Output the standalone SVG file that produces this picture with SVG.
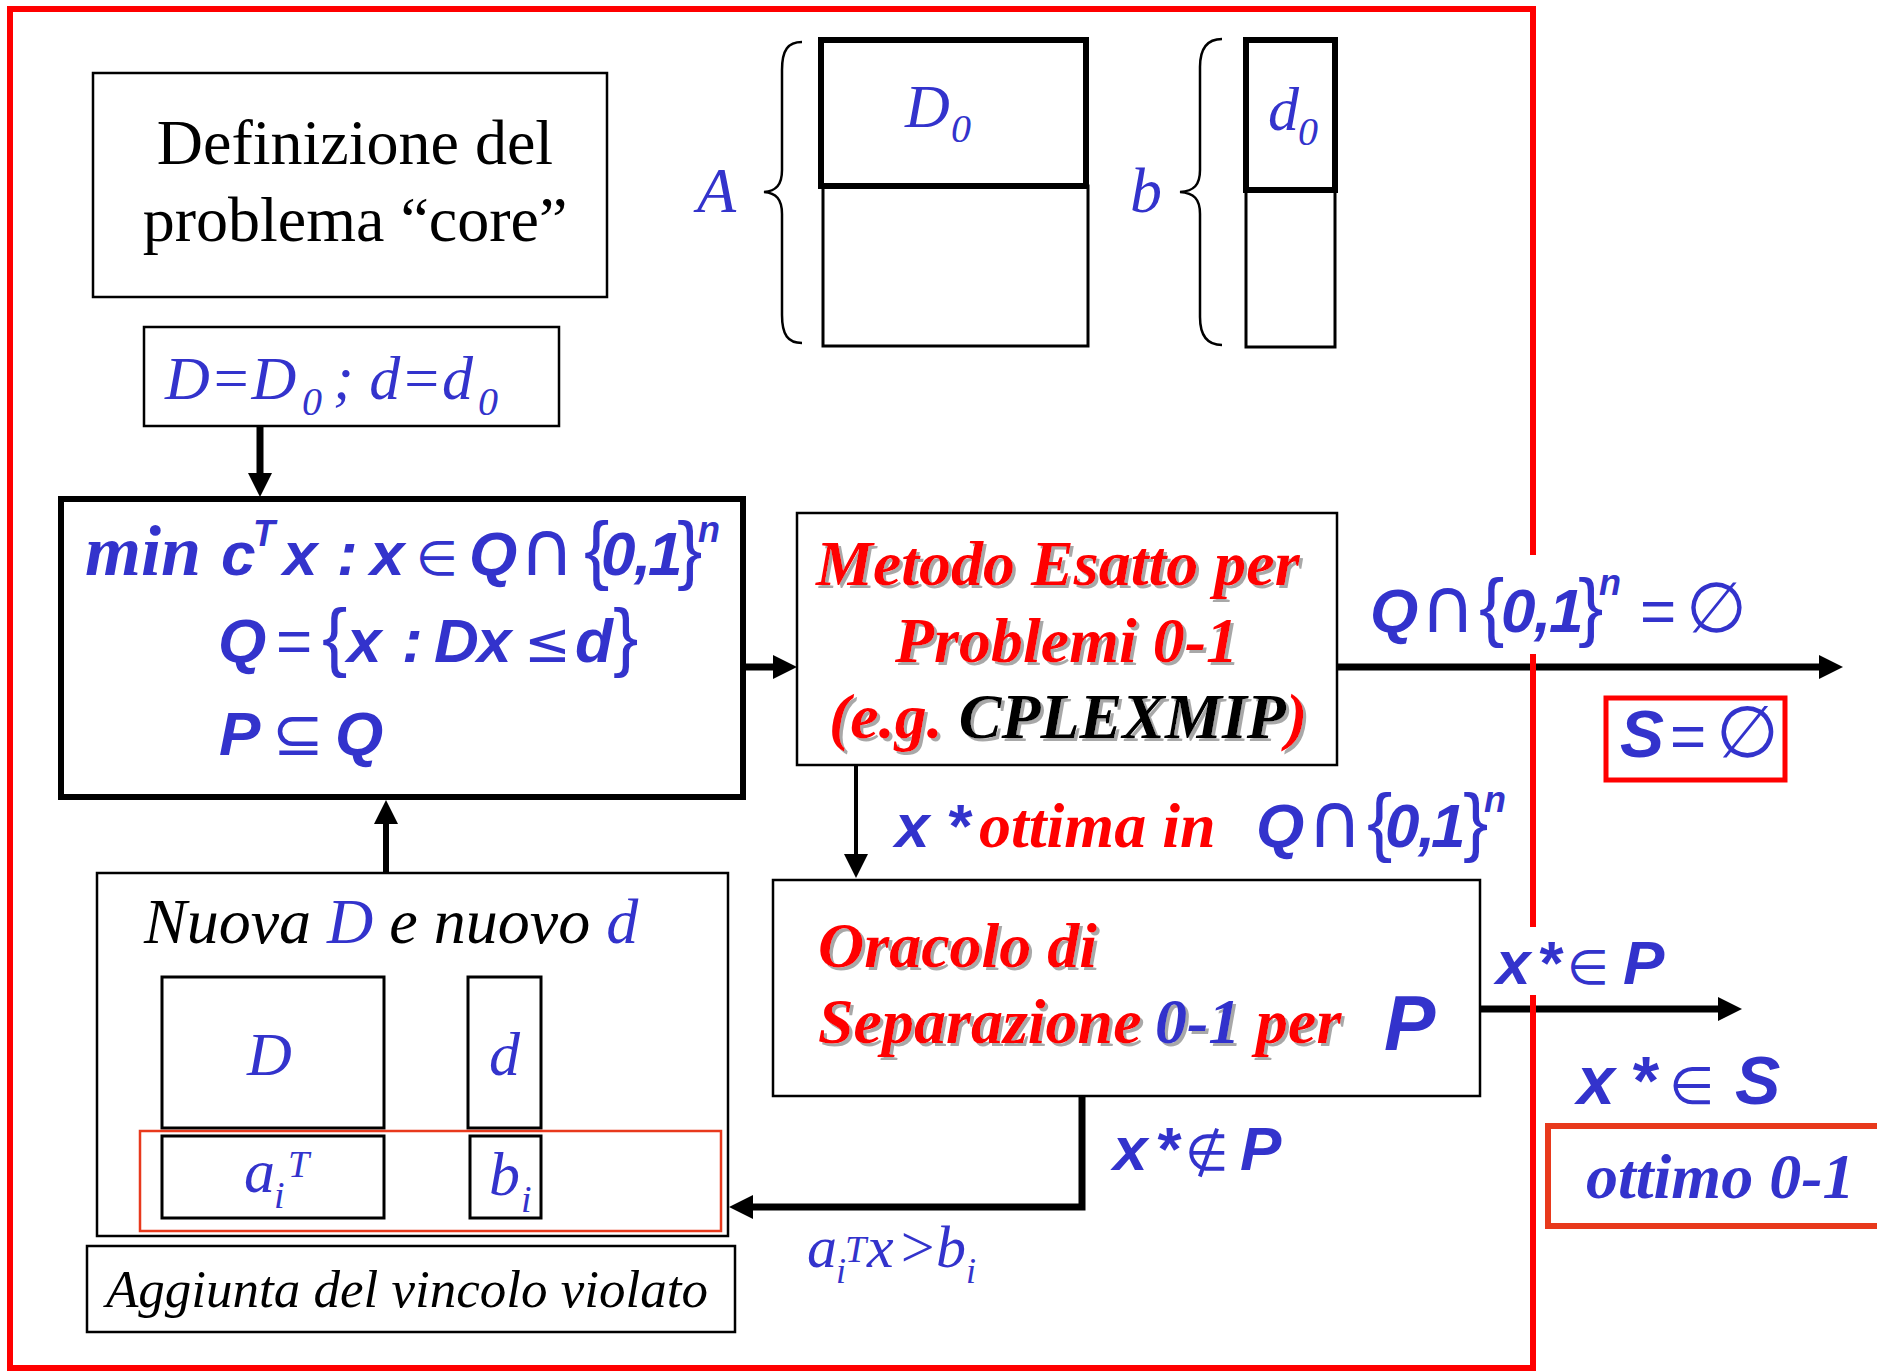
<svg xmlns="http://www.w3.org/2000/svg" width="1877" height="1372" viewBox="0 0 1877 1372">
<defs>
<style>
.box{fill:#fff;stroke:#000;stroke-width:2.5}
.bx3{fill:none;stroke:#000;stroke-width:3}
.thick{fill:none;stroke:#000;stroke-width:6}
.tm{font-family:"Liberation Serif","Times New Roman",serif}
.ar{font-family:"Liberation Sans",Arial,"DejaVu Sans",sans-serif}
.it{font-style:italic}
.bi{font-style:italic;font-weight:bold}
.blue{fill:#3333CC}
.red{fill:#FF0000}
.blk{fill:#000}
.sym{font-family:"DejaVu Sans","Liberation Sans",sans-serif;font-weight:normal;font-style:normal}
.rg{font-weight:normal;font-style:normal}
.conn{fill:none;stroke:#000;stroke-width:7;marker-end:url(#ah)}
.sh{filter:url(#sh)}
</style>
<marker id="ah" markerUnits="userSpaceOnUse" markerWidth="24" markerHeight="24" viewBox="0 0 24 24" refX="4" refY="12" orient="auto"><path d="M0,0 L24,12 L0,24 Z" fill="#000"/></marker>
<filter id="sh" x="-5%" y="-10%" width="115%" height="130%"><feDropShadow dx="3" dy="3" stdDeviation="0.5" flood-color="#A8A8A8" flood-opacity="1"/></filter>
</defs>
<rect width="1877" height="1372" fill="#fff"/>

<g id="connectors">
<line class="conn" x1="260" y1="426" x2="260" y2="477"/>
<line class="conn" x1="746" y1="667" x2="777" y2="667"/>
<line class="conn" x1="1338" y1="667" x2="1823" y2="667"/>
<line class="conn" style="stroke-width:4" x1="856" y1="766" x2="856" y2="858"/>
<line class="conn" x1="1480" y1="1009" x2="1722" y2="1009"/>
<path class="conn" d="M1082,1097 V1207 H749"/>
<line class="conn" style="stroke-width:6" x1="386" y1="873" x2="386" y2="820"/>
</g>

<g id="frame">
<rect x="10" y="9" width="1523" height="1359" fill="none" stroke="#FF0000" stroke-width="6"/>
</g>

<g id="definizione">
<rect class="box" x="93" y="73" width="514" height="224"/>
<text class="tm blk" font-size="64" text-anchor="middle"><tspan x="355" y="164">Definizione del</tspan><tspan x="355" y="241">problema “core”</tspan></text>
</g>

<g id="matrixA">
<path d="M802,42 C788,42 782,50 782,70 L782,170 C782,185 776,191 764,192 C776,193 782,199 782,214 L782,315 C782,335 788,343 802,343" fill="none" stroke="#000" stroke-width="2.5"/>
<text class="tm it blue" font-size="64" x="697" y="212">A</text>
<rect class="bx3" x="823" y="186" width="265" height="160"/>
<rect class="thick" x="821" y="40" width="265" height="146"/>
<text class="tm it blue" font-size="62"><tspan x="905" y="127">D</tspan><tspan x="951" y="142" font-size="40">0</tspan></text>
</g>

<g id="vectorb">
<path d="M1222,39 C1208,39 1200,47 1200,67 L1200,170 C1200,185 1194,191 1180,192 C1194,193 1200,199 1200,214 L1200,317 C1200,337 1208,345 1222,345" fill="none" stroke="#000" stroke-width="2.5"/>
<text class="tm it blue" font-size="64" x="1130" y="212">b</text>
<rect class="bx3" x="1246" y="190" width="89" height="157"/>
<rect class="thick" x="1246" y="40" width="89" height="150"/>
<text class="tm it blue" font-size="62"><tspan x="1268" y="130">d</tspan><tspan x="1298" y="145" font-size="40">0</tspan></text>
</g>

<g id="init">
<rect class="box" x="144" y="327" width="415" height="99"/>
<text class="tm it blue" font-size="62"><tspan x="165" y="399">D=D</tspan><tspan x="302" y="415" font-size="40">0</tspan><tspan x="333" y="399">; d=d</tspan><tspan x="478" y="415" font-size="40">0</tspan></text>
</g>

<g id="problem">
<rect class="thick" x="61" y="499" width="682" height="298" style="fill:#fff"/>
<text class="tm bi blue" font-size="72" x="85" y="575">min</text>
<text class="ar bi blue" font-size="62" y="575"><tspan x="221">c</tspan><tspan x="253" y="546" font-size="36">T</tspan><tspan x="283" y="575">x</tspan><tspan x="337">:</tspan><tspan x="370">x</tspan><tspan class="sym" x="416" font-size="48">∈</tspan><tspan x="469">Q</tspan><tspan class="sym" x="519" font-size="76">∩</tspan><tspan class="rg" x="584" font-size="76">{</tspan><tspan x="601 634 648">0,1</tspan><tspan class="rg" x="677" font-size="76">}</tspan><tspan x="698" y="542" font-size="36">n</tspan></text>
<text class="ar bi blue" font-size="62" y="662"><tspan x="218">Q</tspan><tspan class="rg" x="276">=</tspan><tspan class="rg" x="322" font-size="76">{</tspan><tspan x="347">x</tspan><tspan x="402">:</tspan><tspan x="434">D</tspan><tspan x="477">x</tspan><tspan class="sym" x="524" font-size="56">≤</tspan><tspan x="575">d</tspan><tspan class="rg" x="613" font-size="76">}</tspan></text>
<text class="ar bi blue" font-size="62" y="755"><tspan x="219">P</tspan><tspan class="sym" x="272" font-size="62">⊆</tspan><tspan x="335">Q</tspan></text>
</g>

<g id="metodo">
<rect class="box" x="797" y="513" width="540" height="252"/>
<text class="tm bi red sh" font-size="64" x="816" y="585">Metodo Esatto per</text>
<text class="tm bi red sh" font-size="64" x="895" y="662">Problemi 0-1</text>
<text class="tm bi red sh" font-size="64" x="829" y="738">(e.g. <tspan class="blk">CPLEXMIP</tspan>)</text>
</g>

<g id="label-empty">
<rect x="1362" y="555" width="385" height="99" fill="#fff"/>
<text class="ar bi blue" font-size="62" y="632"><tspan x="1370">Q</tspan><tspan class="sym" x="1420" font-size="76">∩</tspan><tspan class="rg" x="1479" font-size="76">{</tspan><tspan x="1501 1534 1549">0,1</tspan><tspan class="rg" x="1578" font-size="76">}</tspan><tspan x="1599" y="595" font-size="36">n</tspan><tspan class="rg" x="1640" y="632">=</tspan><tspan class="sym" x="1686" font-size="70">∅</tspan></text>
</g>

<g id="result-empty">
<rect x="1606" y="698" width="179" height="82" fill="none" stroke="#FF0000" stroke-width="5"/>
<text class="ar bi blue" font-size="66" y="757"><tspan x="1620">S</tspan><tspan class="rg" x="1670" font-size="62">=</tspan><tspan class="sym" x="1716" font-size="72">∅</tspan></text>
</g>

<g id="label-opt">
<text class="ar bi blue" font-size="62" y="847"><tspan x="895">x</tspan><tspan x="946">*</tspan><tspan class="tm red" x="979" font-size="64">ottima in</tspan><tspan x="1256">Q</tspan><tspan class="sym" x="1307" font-size="76">∩</tspan><tspan class="rg" x="1367" font-size="76">{</tspan><tspan x="1385 1418 1431">0,1</tspan><tspan class="rg" x="1463" font-size="76">}</tspan><tspan x="1484" y="812" font-size="36">n</tspan></text>
</g>

<g id="oracolo">
<rect class="box" x="773" y="880" width="707" height="216"/>
<text class="tm bi red sh" font-size="64" x="818" y="967">Oracolo di</text>
<text class="tm bi red sh" font-size="64" y="1043"><tspan x="818">Separazione</tspan><tspan class="blue" x="1155">0-1</tspan><tspan x="1256">per</tspan></text>
<text class="ar bi blue" font-size="77" x="1384" y="1050">P</text>
</g>

<g id="label-inP">
<rect x="1490" y="927" width="180" height="68" fill="#fff"/>
<text class="ar bi blue" font-size="62" y="984"><tspan x="1496">x</tspan><tspan x="1537">*</tspan><tspan class="sym" x="1567" font-size="48">∈</tspan><tspan x="1623">P</tspan></text>
</g>

<g id="result-opt">
<text class="ar bi blue" font-size="68" y="1104"><tspan x="1577">x</tspan><tspan x="1630">*</tspan><tspan class="sym" x="1669" font-size="52">∈</tspan><tspan x="1735">S</tspan></text>
<rect x="1548" y="1126" width="340" height="100" fill="none" stroke="#E8391C" stroke-width="6"/>
<text class="tm bi blue" font-size="64" x="1586" y="1198">ottimo 0-1</text>
</g>

<g id="label-notinP">
<text class="ar bi blue" font-size="62" y="1170"><tspan x="1113">x</tspan><tspan x="1155">*</tspan><tspan class="sym" x="1185" font-size="50">∉</tspan><tspan x="1240">P</tspan></text>
<text class="tm it blue" font-size="60" y="1267"><tspan x="807">a</tspan><tspan x="836" y="1283" font-size="36">i</tspan><tspan x="845" y="1262" font-size="38">T</tspan><tspan x="867" y="1267">x</tspan><tspan x="897">&gt;</tspan><tspan x="936">b</tspan><tspan x="966" y="1283" font-size="36">i</tspan></text>
</g>

<g id="nuova">
<rect class="box" x="97" y="873" width="631" height="363"/>
<text class="tm it blk" font-size="64" x="144" y="943">Nuova <tspan class="blue">D</tspan> e nuovo <tspan class="blue">d</tspan></text>
<rect class="bx3" x="162" y="977" width="222" height="151"/>
<text class="tm it blue" font-size="62" x="247" y="1075">D</text>
<rect class="bx3" x="468" y="977" width="73" height="151"/>
<text class="tm it blue" font-size="62" x="489" y="1075">d</text>
<rect x="140" y="1131" width="581" height="100" fill="none" stroke="#E8391C" stroke-width="2.5"/>
<rect class="bx3" x="162" y="1136" width="222" height="82"/>
<text class="tm it blue" font-size="62"><tspan x="244" y="1192">a</tspan><tspan x="274" y="1208" font-size="38">i</tspan><tspan x="288" y="1177" font-size="38">T</tspan></text>
<rect class="bx3" x="470" y="1136" width="71" height="82"/>
<text class="tm it blue" font-size="62"><tspan x="489" y="1195">b</tspan><tspan x="521" y="1212" font-size="38">i</tspan></text>
</g>

<g id="aggiunta">
<rect class="box" x="87" y="1246" width="648" height="86"/>
<text class="tm it blk" font-size="53" x="106" y="1307">Aggiunta del vincolo violato</text>
</g>
</svg>
